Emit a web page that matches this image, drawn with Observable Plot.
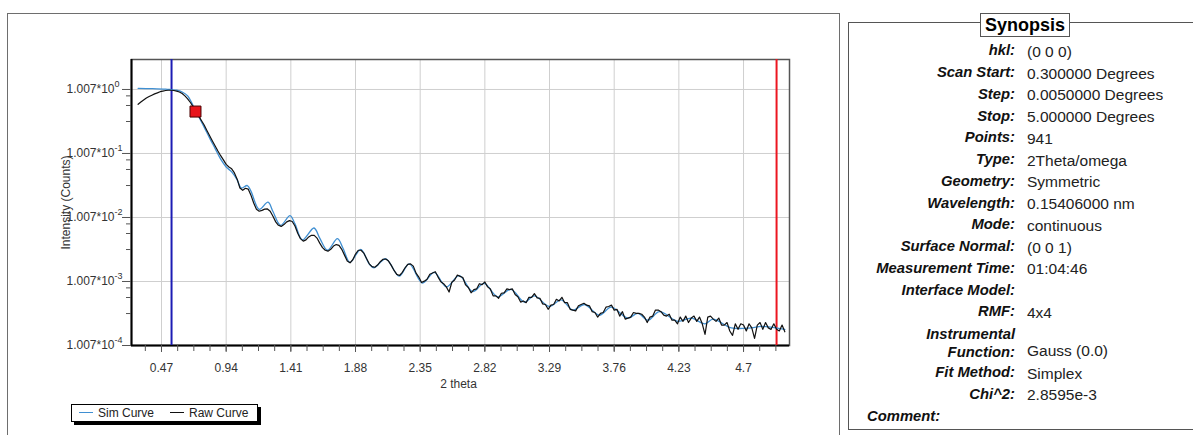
<!DOCTYPE html>
<html>
<head>
<meta charset="utf-8">
<script src="https://cdn.jsdelivr.net/npm/d3@7"></script>
<script src="https://cdn.jsdelivr.net/npm/@observablehq/plot@0.6"></script>
<style>
  body { margin: 0; background: #fff; font-family: "Liberation Sans", Arial, sans-serif; }
  #page { position: relative; width: 1193px; height: 435px; overflow: hidden; background: #fff; }
  #chartBox { position: absolute; left: 7px; top: 13px; width: 831px; height: 440px; border: 1px solid #6e6e6e; }
  #chart { position: absolute; left: 0; top: 0; }
  #legend { position: absolute; left: 71px; top: 404px; width: 185px; height: 16px; border: 1px solid #000;
            background: #fff; box-shadow: 3px 3px 0 #000; font-size: 12px; color: #222; line-height: 16px; white-space: nowrap; }
  #legend .sw { display: inline-block; width: 14px; height: 0; border-top: 1px solid; vertical-align: middle; margin: 0 5px 0 7px; position: relative; top: -1px; }
  #legend .item { display: inline-block; }
  #synopsis { position: absolute; left: 848px; top: 22px; width: 380px; height: 406px; border: 1.5px solid #555; }
  #synTitle { position: absolute; left: 980px; top: 13px; width: 88px; height: 22px; border: 1.5px solid #555; background: #fff;
              font-weight: bold; font-size: 18px; line-height: 22px; text-align: center; color: #000; }
  #rows { position: absolute; left: 0; top: 16.5px; width: 100%; }
  .row { display: flex; height: 21.75px; align-items: center; }
  .row .lab { width: 166px; text-align: right; font-weight: bold; font-style: italic; font-size: 14.8px; color: #111; white-space: nowrap; }
  .row .val { margin-left: 12px; font-size: 15.5px; color: #222; position: relative; top: 1.5px; white-space: nowrap; }
  .row.two { height: 39px; align-items: flex-end; }
  .row.two .lab { line-height: 17.5px; }
  .row.two .val { top: -1px; }
  .row.wide .lab { width: auto; text-align: left; padding-left: 18px; }
</style>
</head>
<body>
<div id="page">
  <div id="chartBox"><div id="chart"></div></div>
  <div id="legend"></div>
  <div id="synopsis"><div id="rows"></div></div>
  <div id="synTitle">Synopsis</div>
</div>
<script>
// Scan grid of the measured curve (degrees 2θ)
const scanStart = 0.30;
const rawStep = 0.02;

// Measured intensity, one value per grid step from 0.30 to 5.00
const rawIntensity = [
  0.59, 0.64, 0.69, 0.74, 0.78, 0.82, 0.86, 0.89, 0.93, 0.95,
  0.97, 0.98, 0.98, 0.97, 0.95, 0.92, 0.87, 0.80, 0.72, 0.63,
  0.54, 0.46, 0.39, 0.33, 0.28, 0.23, 0.19, 0.158, 0.132, 0.110,
  0.093, 0.080, 0.068, 0.062, 0.058, 0.050, 0.040, 0.029, 0.0268, 0.0288,
  0.0280, 0.0225, 0.0170, 0.0135, 0.0126, 0.0130, 0.0136, 0.0137, 0.0126, 0.0105,
  0.0086, 0.0076, 0.0073, 0.0078, 0.0086, 0.0090, 0.0087, 0.0074, 0.0057, 0.0047,
  0.0043, 0.0045, 0.0050, 0.0053, 0.0053, 0.0048, 0.0040, 0.0034, 0.0031, 0.0030,
  0.0032, 0.0036, 0.0038, 0.0037, 0.0032, 0.0026, 0.0021, 0.00197, 0.0022, 0.0027,
  0.0031, 0.0031, 0.0028, 0.0023, 0.0019, 0.00172, 0.00168, 0.00182, 0.00205, 0.00224,
  0.00226, 0.00210, 0.00180, 0.00150, 0.00130, 0.00125, 0.00140, 0.00165, 0.00186, 0.00190,
  0.00175, 0.00136, 0.00118, 0.00097, 0.00102, 0.00109, 0.00131, 0.00137, 0.00143, 0.00118,
  0.00100, 0.00093, 0.00083, 0.00069, 0.00098, 0.00106, 0.00127, 0.00121, 0.00116, 0.00089,
  0.00081, 0.00067, 0.00075, 0.00077, 0.00093, 0.00090, 0.00099, 0.00083, 0.00077, 0.00060,
  0.00060, 0.00055, 0.00066, 0.00067, 0.00077, 0.00075, 0.00077, 0.00063, 0.00058, 0.00048,
  0.00050, 0.00047, 0.00057, 0.00057, 0.00065, 0.00056, 0.00055, 0.00045, 0.00044, 0.00037,
  0.00043, 0.00044, 0.00053, 0.00050, 0.00057, 0.00047, 0.00047, 0.00037, 0.00036, 0.00035,
  0.00042, 0.00044, 0.00046, 0.00043, 0.00042, 0.00034, 0.00033, 0.00028, 0.00032, 0.00033,
  0.00040, 0.00041, 0.00043, 0.00036, 0.00037, 0.00029, 0.00034, 0.00026, 0.00027, 0.00028,
  0.00033, 0.00032, 0.00032, 0.00031, 0.00028, 0.00023, 0.00028, 0.00029, 0.00036, 0.00036,
  0.00034, 0.00030, 0.00029, 0.00031, 0.00025, 0.00025, 0.00022, 0.00028, 0.00024, 0.00029,
  0.00023, 0.00027, 0.00029, 0.00024, 0.00028, 0.00022, 0.00015, 0.00028, 0.00029, 0.00026,
  0.00024, 0.00027, 0.00021, 0.00021, 0.00023, 0.00017, 0.000145, 0.00022, 0.00018, 0.00022,
  0.00021, 0.00017, 0.00022, 0.00019, 0.00013, 0.00021, 0.00023, 0.00018, 0.00023, 0.00019,
  0.00018, 0.00022, 0.00018, 0.00017, 0.00021,
  0.000165
];

// Simulated (fitted) curve
const simTheta = [
  0.30, 0.40, 0.50, 0.54, 0.58, 0.62, 0.66, 0.70, 0.74, 0.78,
  0.82, 0.86, 0.90, 0.94, 0.98, 1.02, 1.05, 1.094, 1.12, 1.18,
  1.244, 1.28, 1.336, 1.404, 1.44, 1.494, 1.578, 1.62, 1.676, 1.749,
  1.79, 1.84, 1.918, 1.979, 2.015, 2.100, 2.197, 2.270, 2.367, 2.452,
  2.540, 2.634, 2.731, 2.815, 2.912, 3.010, 3.107, 3.180, 3.289, 3.374,
  3.459, 3.544, 3.653, 3.738, 3.859, 3.932, 4.005, 4.089, 4.223, 4.320,
  4.420, 4.478, 4.611, 4.757, 4.830, 5.000
];
const simIntensity = [
  1.05, 1.04, 1.02, 1.00, 0.98, 0.92, 0.80, 0.56, 0.38, 0.26,
  0.175, 0.12, 0.082, 0.062, 0.052, 0.039, 0.029, 0.0318, 0.026, 0.0135,
  0.0175, 0.0125, 0.0076, 0.0108, 0.0080, 0.0045, 0.0069, 0.0048, 0.0031, 0.0047,
  0.0033, 0.0020, 0.0032, 0.0019, 0.00165, 0.00228, 0.00122, 0.00190, 0.00095, 0.00140,
  0.00083, 0.00124, 0.00070, 0.00094, 0.00058, 0.00076, 0.00048, 0.00060, 0.00041, 0.00052,
  0.00036, 0.00044, 0.00030, 0.00040, 0.00027, 0.00032, 0.00025, 0.00034, 0.00024, 0.00027,
  0.00022, 0.00026, 0.00019, 0.00019, 0.00020, 0.00018
];

// Fit range cursors and the drag handle on the curve
const fitStart = 0.543;
const fitStop = 4.94;
const handleTheta = 0.717;
const handleIntensity = 0.455;

// Axes
const xDomain = [0.252, 5.034];
const yDomain = [1.007e-4, 2.96];
const xMajorTicks = [0.47, 0.94, 1.41, 1.88, 2.35, 2.82, 3.29, 3.76, 4.23, 4.7];
const xMinorTicks = d3.range(0.3525, 5.03, 0.1175);
const yMajorTicks = [1.007, 0.1007, 0.01007, 0.001007, 0.0001007];
const yTickMantissa = "1.007*10";
const yTickExponents = ["0", "-1", "-2", "-3", "-4"];
const yMinorTicks = [
  0.000318, 0.000566, 0.000800,
  0.00318, 0.00566, 0.00800,
  0.0318, 0.0566, 0.0800,
  0.318, 0.566, 0.800
];

// Series names and colours
const seriesNames = ["Sim Curve", "Raw Curve"];
const seriesColors = ["#3f8fd2", "#111111"];

// Synopsis table
const synLabels = ["hkl:", "Scan Start:", "Step:", "Stop:", "Points:", "Type:", "Geometry:", "Wavelength:",
  "Mode:", "Surface Normal:", "Measurement Time:", "Interface Model:", "RMF:", "Instrumental\nFunction:",
  "Fit Method:", "Chi^2:", "Comment:"];
const synValues = ["(0 0 0)", "0.300000 Degrees", "0.0050000 Degrees", "5.000000 Degrees", "941", "2Theta/omega",
  "Symmetric", "0.15406000 nm", "continuous", "(0 0 1)", "01:04:46", "", "4x4", "Gauss (0.0)",
  "Simplex", "2.8595e-3", ""];

const raw = rawIntensity.map((v, i) => ({theta: scanStart + i * rawStep, intensity: v}));
const sim = simTheta.map((t, i) => ({theta: t, intensity: simIntensity[i]}));

const chart = Plot.plot({
  width: 831,
  height: 421,
  marginLeft: 123,
  marginRight: 50,
  marginTop: 45,
  marginBottom: 90,
  style: {fontFamily: '"Liberation Sans", Arial, sans-serif', fontSize: "12px", color: "#333", background: "transparent", overflow: "visible"},
  x: {domain: xDomain, axis: null},
  y: {type: "log", domain: yDomain, axis: null},
  marks: [
    Plot.gridX(xMajorTicks, {stroke: "#cfcfcf", strokeOpacity: 1}),
    Plot.gridY(yMajorTicks, {stroke: "#cfcfcf", strokeOpacity: 1}),
    Plot.frame({stroke: "#555", strokeWidth: 1.5}),
    Plot.ruleX([xDomain[0]], {stroke: "#000", strokeWidth: 2}),
    Plot.ruleY([yDomain[0]], {stroke: "#000", strokeWidth: 2}),
    Plot.axisX(xMinorTicks, {tickSize: 6, tickFormat: () => "", label: null, stroke: "#555"}),
    Plot.axisX(xMajorTicks, {tickSize: 7, tickPadding: 11, tickFormat: d => String(d), label: null, stroke: "#555", fill: "#333", fontSize: 12}),
    Plot.axisY(yMinorTicks, {tickSize: 5, tickFormat: () => "", label: null, stroke: "#555"}),
    Plot.axisY(yMajorTicks, {tickSize: 9, tickPadding: 8, tickFormat: () => yTickMantissa, label: null, stroke: "#555", fill: "#333", fontSize: 12}),
    Plot.text(yMajorTicks, {y: d => d, text: (d, i) => yTickExponents[i], frameAnchor: "left", dx: -17, dy: -5, textAnchor: "start", fontSize: 9, fill: "#333"}),
    Plot.text(["2 theta"], {text: d => d, frameAnchor: "bottom", dx: -2, dy: 39, lineAnchor: "middle", fontSize: 12, fill: "#333"}),
    Plot.text(["Intensity (Counts)"], {text: d => d, frameAnchor: "left", dx: -65, rotate: -90, textAnchor: "middle", lineAnchor: "middle", fontSize: 12, fill: "#333"}),
    Plot.ruleX([fitStart], {stroke: "#1c1cb4", strokeWidth: 2}),
    Plot.ruleX([fitStop], {stroke: "#ec1620", strokeWidth: 2}),
    Plot.line(sim, {x: "theta", y: "intensity", stroke: seriesColors[0], strokeWidth: 1.3, curve: "catmull-rom"}),
    Plot.line(raw, {x: "theta", y: "intensity", stroke: seriesColors[1], strokeWidth: 1.2}),
    Plot.dot([{theta: handleTheta, intensity: handleIntensity}], {x: "theta", y: "intensity", symbol: "square", r: 6.2, fill: "#e8141c", stroke: "#4a0000", strokeWidth: 1})
  ]
});
document.getElementById("chart").appendChild(chart);

// Legend
const legend = document.getElementById("legend");
seriesNames.forEach((name, i) => {
  const item = document.createElement("span");
  item.className = "item";
  const sw = document.createElement("span");
  sw.className = "sw";
  sw.style.borderTopColor = seriesColors[i];
  item.appendChild(sw);
  item.appendChild(document.createTextNode(name));
  if (i > 0) item.style.marginLeft = "9px";
  legend.appendChild(item);
});

// Synopsis rows
const rows = document.getElementById("rows");
synLabels.forEach((label, i) => {
  const row = document.createElement("div");
  row.className = "row";
  if (label.includes("\n")) row.classList.add("two");
  if (label === "Comment:") row.classList.add("wide");
  const lab = document.createElement("div");
  lab.className = "lab";
  label.split("\n").forEach((part, j) => {
    if (j > 0) lab.appendChild(document.createElement("br"));
    lab.appendChild(document.createTextNode(part));
  });
  row.appendChild(lab);
  const val = document.createElement("div");
  val.className = "val";
  val.textContent = synValues[i];
  row.appendChild(val);
  rows.appendChild(row);
});
</script>
</body>
</html>
